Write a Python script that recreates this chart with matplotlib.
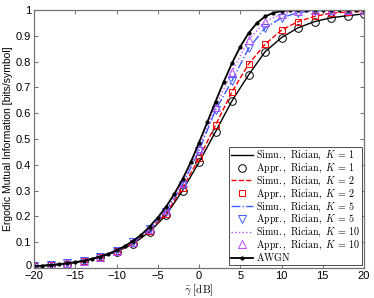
import matplotlib
matplotlib.use("Agg")
import matplotlib.pyplot as plt
from matplotlib.transforms import ScaledTranslation

plt.rcParams['font.family'] = ['Liberation Sans', 'DejaVu Sans']
plt.rcParams['mathtext.fontset'] = 'cm'

# SNR axis (dB)
snr_awgn = list(range(-20, 21))
snr = list(range(-20, 21, 2))

# AWGN, every 1 dB
awgn = [0.0072, 0.0090, 0.0113, 0.0142, 0.0179, 0.0225, 0.0282, 0.0353, 0.0442, 0.0551,
        0.0685, 0.0849, 0.1048, 0.1285, 0.1600, 0.1955, 0.2370, 0.2870, 0.3440, 0.4100,
        0.4860, 0.5650, 0.6450, 0.7220, 0.7940, 0.8580, 0.9100, 0.9490, 0.9750, 0.9890,
        0.9960, 0.9990, 0.9998, 1.0, 1.0, 1.0, 1.0, 1.0, 1.0, 1.0, 1.0]

# Rician fading, every 2 dB
k1 = [0.0070, 0.0110, 0.0172, 0.0270, 0.0420, 0.0630, 0.0930, 0.1400, 0.2050, 0.3000,
      0.4100, 0.5280, 0.6480, 0.7480, 0.8380, 0.8930, 0.9310, 0.9550, 0.9700, 0.9780, 0.9850]
k2 = [0.0070, 0.0110, 0.0174, 0.0273, 0.0425, 0.0645, 0.0960, 0.1450, 0.2100, 0.3100,
      0.4250, 0.5540, 0.6830, 0.7900, 0.8670, 0.9220, 0.9550, 0.9750, 0.9880, 0.9920, 0.9950]
k5 = [0.0071, 0.0111, 0.0176, 0.0276, 0.0430, 0.0660, 0.0990, 0.1500, 0.2180, 0.3220,
      0.4550, 0.6120, 0.7260, 0.8510, 0.9300, 0.9700, 0.9900, 0.9970, 0.9990, 1.0, 1.0]
k10 = [0.0071, 0.0112, 0.0177, 0.0278, 0.0435, 0.0670, 0.1010, 0.1530, 0.2250, 0.3300,
       0.4650, 0.6250, 0.7610, 0.8840, 0.9550, 0.9850, 0.9970, 1.0, 1.0, 1.0, 1.0]

blue = '#3d5cff'
violet = '#b84dff'

fig = plt.figure(figsize=(3.74, 2.98), dpi=100)
ax = fig.add_axes([0.091, 0.1007, 0.8823, 0.8657])

def lab(s, k):
    return r"$\mathrm{%s,\ Rician,}\ K\,=\,%d$" % (s, k)

ax.plot(snr, k1, color='k', lw=1.0, label=lab('Simu.', 1))
ax.plot(snr, k1, ls='none', marker='o', mfc='none', mec='k', ms=5.5, mew=0.7, label=lab('Appr.', 1))
ax.plot(snr, k2, color='r', ls='--', lw=1.0, label=lab('Simu.', 2))
ax.plot(snr, k2, ls='none', marker='s', mfc='none', mec='r', ms=5, mew=0.7, label=lab('Appr.', 2))
ax.plot(snr, k5, color=blue, ls='-.', lw=1.0, label=lab('Simu.', 5))
ax.plot(snr, k5, ls='none', marker='v', mfc='none', mec=blue, ms=6, mew=0.7, label=lab('Appr.', 5))
ax.plot(snr, k10, color=violet, ls=':', lw=1.0, label=lab('Simu.', 10))
ax.plot(snr, k10, ls='none', marker='^', mfc='none', mec=violet, ms=6, mew=0.7, label=lab('Appr.', 10))
ax.plot(snr_awgn, awgn, color='k', lw=1.3, marker='.', ms=4, label=r"$\mathrm{AWGN}$")

ax.set_xlim(-20, 20)
ax.set_ylim(0, 1)
ax.set_xticks(range(-20, 21, 5))
ax.set_yticks([i / 10 for i in range(11)])
ax.set_yticklabels(['0'] + ['0.%d' % i for i in range(1, 10)] + ['1'])
ax.tick_params(direction='in', top=True, right=True, labelsize=8, length=3, width=0.6, color='0.35', pad=2)
for s in ax.spines.values():
    s.set_color('0.45')
    s.set_linewidth(0.9)
# nudge the bottom "0" up a little so it clears the "-20"
zero = ax.get_yticklabels()[0]
zero.set_transform(zero.get_transform() + ScaledTranslation(0, 2 / 72, fig.dpi_scale_trans))

ax.set_xlabel(r"$\bar{\gamma}$ $\mathrm{[dB]}$", fontsize=8, labelpad=1)
ax.set_ylabel("Ergodic Mutual Information [bits/symbol]", fontsize=7.5, labelpad=2)

leg = ax.legend(loc='lower right', fontsize=7.2, labelspacing=-0.06, handlelength=2.2,
                handletextpad=0.3, borderpad=0.2, borderaxespad=0.25, fancybox=False,
                framealpha=1)
leg.get_frame().set_edgecolor('0.3')
leg.get_frame().set_linewidth(0.7)

fig.savefig("out.png", dpi=100)
